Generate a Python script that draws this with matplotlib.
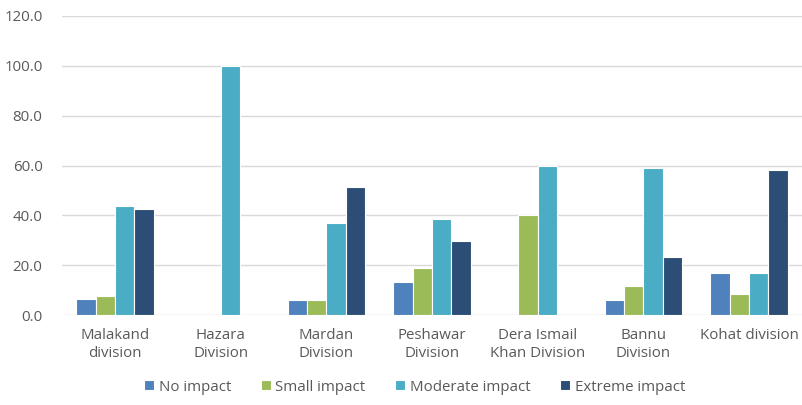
import matplotlib
matplotlib.use("Agg")
import matplotlib.pyplot as plt
import numpy as np

plt.rcParams["font.family"] = ["Open Sans", "DejaVu Sans"]

# Data
divisions = ["Malakand\ndivision", "Hazara\nDivision", "Mardan\nDivision",
             "Peshawar\nDivision", "Dera Ismail\nKhan Division", "Bannu\nDivision",
             "Kohat division"]
series_names = ["No impact", "Small impact", "Moderate impact", "Extreme impact"]
no_impact = [6.4, 0, 6.0, 13.3, 0, 6.0, 16.7]
small_impact = [7.5, 0, 6.0, 18.7, 40.0, 11.8, 8.3]
moderate_impact = [43.6, 100.0, 36.8, 38.4, 60.0, 58.9, 16.7]
extreme_impact = [42.7, 0, 51.4, 29.6, 0, 23.5, 58.2]

colors = ["#4F81BD", "#9BBB59", "#4BACC6", "#2C4D75"]
text_color = "#595959"
grid_color = "#D9D9D9"

fig = plt.figure(figsize=(8.02, 4.05), dpi=100)
ax = fig.add_axes([0.0773, 0.222, 0.9227, 0.7385])

x = np.arange(len(divisions))
width = 0.183
all_series = [no_impact, small_impact, moderate_impact, extreme_impact]
for i, (vals, name, col) in enumerate(zip(all_series, series_names, colors)):
    ax.bar(x + (i - 1.5) * width, vals, width, color=col, label=name,
           edgecolor="white", linewidth=0.8, zorder=3)

ax.set_xlim(-0.5, len(divisions) - 0.5)
ax.set_ylim(0, 120)
ax.set_yticks(np.arange(0, 121, 20))
ax.set_yticklabels([f"{v:.1f}" for v in np.arange(0, 121, 20)])
ax.set_xticks(x)
ax.set_xticklabels(divisions, linespacing=1.3)
ax.tick_params(axis="both", length=0, colors=text_color, labelsize=10.8)
ax.tick_params(axis="y", pad=14)
ax.tick_params(axis="x", pad=9)

ax.yaxis.grid(True, color=grid_color, linewidth=1.0, zorder=0)
ax.set_axisbelow(True)
for s in ax.spines.values():
    s.set_visible(False)

leg = fig.legend(loc="center", bbox_to_anchor=(0.517, 0.044), ncol=4,
                 frameon=False, fontsize=10.8, handlelength=0.65, handleheight=0.65,
                 handletextpad=0.3, columnspacing=2.0)
for t in leg.get_texts():
    t.set_color(text_color)

fig.savefig("out.png", dpi=100)
